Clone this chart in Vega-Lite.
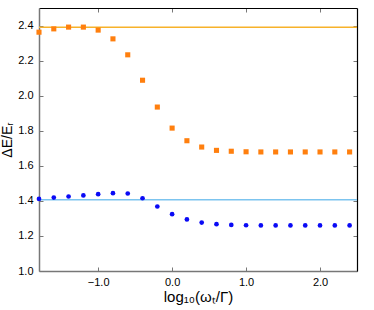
{
  "$schema": "https://vega.github.io/schema/vega-lite/v6.json",
  "width": 318,
  "height": 263,
  "autosize": {"type": "none"},
  "padding": {"left": 39, "top": 8, "right": 17, "bottom": 39},
  "config": {
    "view": {"stroke": null},
    "axis": {"labelFont": "Liberation Sans", "titleFont": "Liberation Sans", "labelFontSize": 11, "labelColor": "#000", "titleColor": "#000", "grid": false, "titleFontWeight": "normal"}
  },
  "datasets": {
    "pts": [
      {"x": -1.8, "y": 2.362, "s": "A"}, {"x": -1.6, "y": 2.381, "s": "A"}, {"x": -1.4, "y": 2.391, "s": "A"}, {"x": -1.2, "y": 2.391, "s": "A"},
      {"x": -1.0, "y": 2.374, "s": "A"}, {"x": -0.8, "y": 2.324, "s": "A"}, {"x": -0.6, "y": 2.233, "s": "A"}, {"x": -0.4, "y": 2.088, "s": "A"},
      {"x": -0.2, "y": 1.935, "s": "A"}, {"x": 0.0, "y": 1.815, "s": "A"}, {"x": 0.2, "y": 1.743, "s": "A"}, {"x": 0.4, "y": 1.707, "s": "A"},
      {"x": 0.6, "y": 1.688, "s": "A"}, {"x": 0.8, "y": 1.683, "s": "A"}, {"x": 1.0, "y": 1.68, "s": "A"}, {"x": 1.2, "y": 1.679, "s": "A"},
      {"x": 1.4, "y": 1.679, "s": "A"}, {"x": 1.6, "y": 1.679, "s": "A"}, {"x": 1.8, "y": 1.679, "s": "A"}, {"x": 2.0, "y": 1.679, "s": "A"},
      {"x": 2.2, "y": 1.679, "s": "A"}, {"x": 2.4, "y": 1.679, "s": "A"},
      {"x": -1.8, "y": 1.411, "s": "B"}, {"x": -1.6, "y": 1.419, "s": "B"}, {"x": -1.4, "y": 1.425, "s": "B"}, {"x": -1.2, "y": 1.431, "s": "B"},
      {"x": -1.0, "y": 1.438, "s": "B"}, {"x": -0.8, "y": 1.444, "s": "B"}, {"x": -0.6, "y": 1.442, "s": "B"}, {"x": -0.4, "y": 1.415, "s": "B"},
      {"x": -0.2, "y": 1.368, "s": "B"}, {"x": 0.0, "y": 1.324, "s": "B"}, {"x": 0.2, "y": 1.294, "s": "B"}, {"x": 0.4, "y": 1.276, "s": "B"},
      {"x": 0.6, "y": 1.267, "s": "B"}, {"x": 0.8, "y": 1.263, "s": "B"}, {"x": 1.0, "y": 1.261, "s": "B"}, {"x": 1.2, "y": 1.26, "s": "B"},
      {"x": 1.4, "y": 1.26, "s": "B"}, {"x": 1.6, "y": 1.26, "s": "B"}, {"x": 1.8, "y": 1.26, "s": "B"}, {"x": 2.0, "y": 1.26, "s": "B"},
      {"x": 2.2, "y": 1.26, "s": "B"}, {"x": 2.4, "y": 1.26, "s": "B"}
    ],
    "lines": [
      {"y": 2.39, "s": "A"},
      {"y": 1.406, "s": "B"}
    ]
  },
  "resolve": {"axis": {"x": "independent", "y": "independent"}},
  "layer": [
    {
      "data": {"name": "lines"},
      "mark": {"type": "rule", "strokeWidth": 1.4},
      "encoding": {
        "y": {"field": "y", "type": "quantitative", "scale": {"domain": [1.0, 2.5]}, "axis": null},
        "color": {"field": "s", "type": "nominal", "scale": {"domain": ["A", "B"], "range": ["#f7b22a", "#7cc4ef"]}, "legend": null}
      }
    },
    {
      "data": {"name": "pts"},
      "mark": {"type": "point", "filled": true, "opacity": 1},
      "encoding": {
        "x": {"field": "x", "type": "quantitative", "scale": {"domain": [-1.8, 2.5], "nice": false, "zero": false},
          "axis": {"orient": "bottom", "values": [-1, 0, 1, 2], "format": ".1f", "title": "log₁₀(ωₜ/Γ)", "titleFontSize": 15, "titlePadding": 2, "domainColor": "#777", "domainWidth": 1.5, "tickColor": "#777", "tickSize": -4, "labelPadding": 9}},
        "y": {"field": "y", "type": "quantitative", "scale": {"domain": [1.0, 2.5], "nice": false, "zero": false},
          "axis": {"orient": "left", "values": [1.0, 1.2, 1.4, 1.6, 1.8, 2.0, 2.2, 2.4], "format": ".1f", "title": "ΔE/Eᵣ", "titleFontSize": 14, "titlePadding": 3, "domainColor": "#777", "domainWidth": 1.5, "tickColor": "#777", "tickSize": -4, "labelPadding": 10}},
        "shape": {"field": "s", "type": "nominal", "scale": {"domain": ["A", "B"], "range": ["square", "circle"]}, "legend": null},
        "size": {"field": "s", "type": "nominal", "scale": {"domain": ["A", "B"], "range": [26, 22]}, "legend": null},
        "fill": {"field": "s", "type": "nominal", "scale": {"domain": ["A", "B"], "range": ["#ff7f0e", "#0a0af5"]}, "legend": null}
      }
    },
    {
      "data": {"name": "pts"},
      "mark": {"type": "point", "opacity": 0},
      "encoding": {
        "x": {"field": "x", "type": "quantitative",
          "axis": {"orient": "top", "values": [-1, 0, 1, 2], "labels": false, "title": null, "domainColor": "#000", "domainWidth": 1.2, "tickColor": "#777", "tickSize": -4}},
        "y": {"field": "y", "type": "quantitative",
          "axis": {"orient": "right", "values": [1.0, 1.2, 1.4, 1.6, 1.8, 2.0, 2.2, 2.4], "labels": false, "title": null, "domainColor": "#000", "domainWidth": 1.2, "tickColor": "#777", "tickSize": -4}}
      }
    }
  ]
}
